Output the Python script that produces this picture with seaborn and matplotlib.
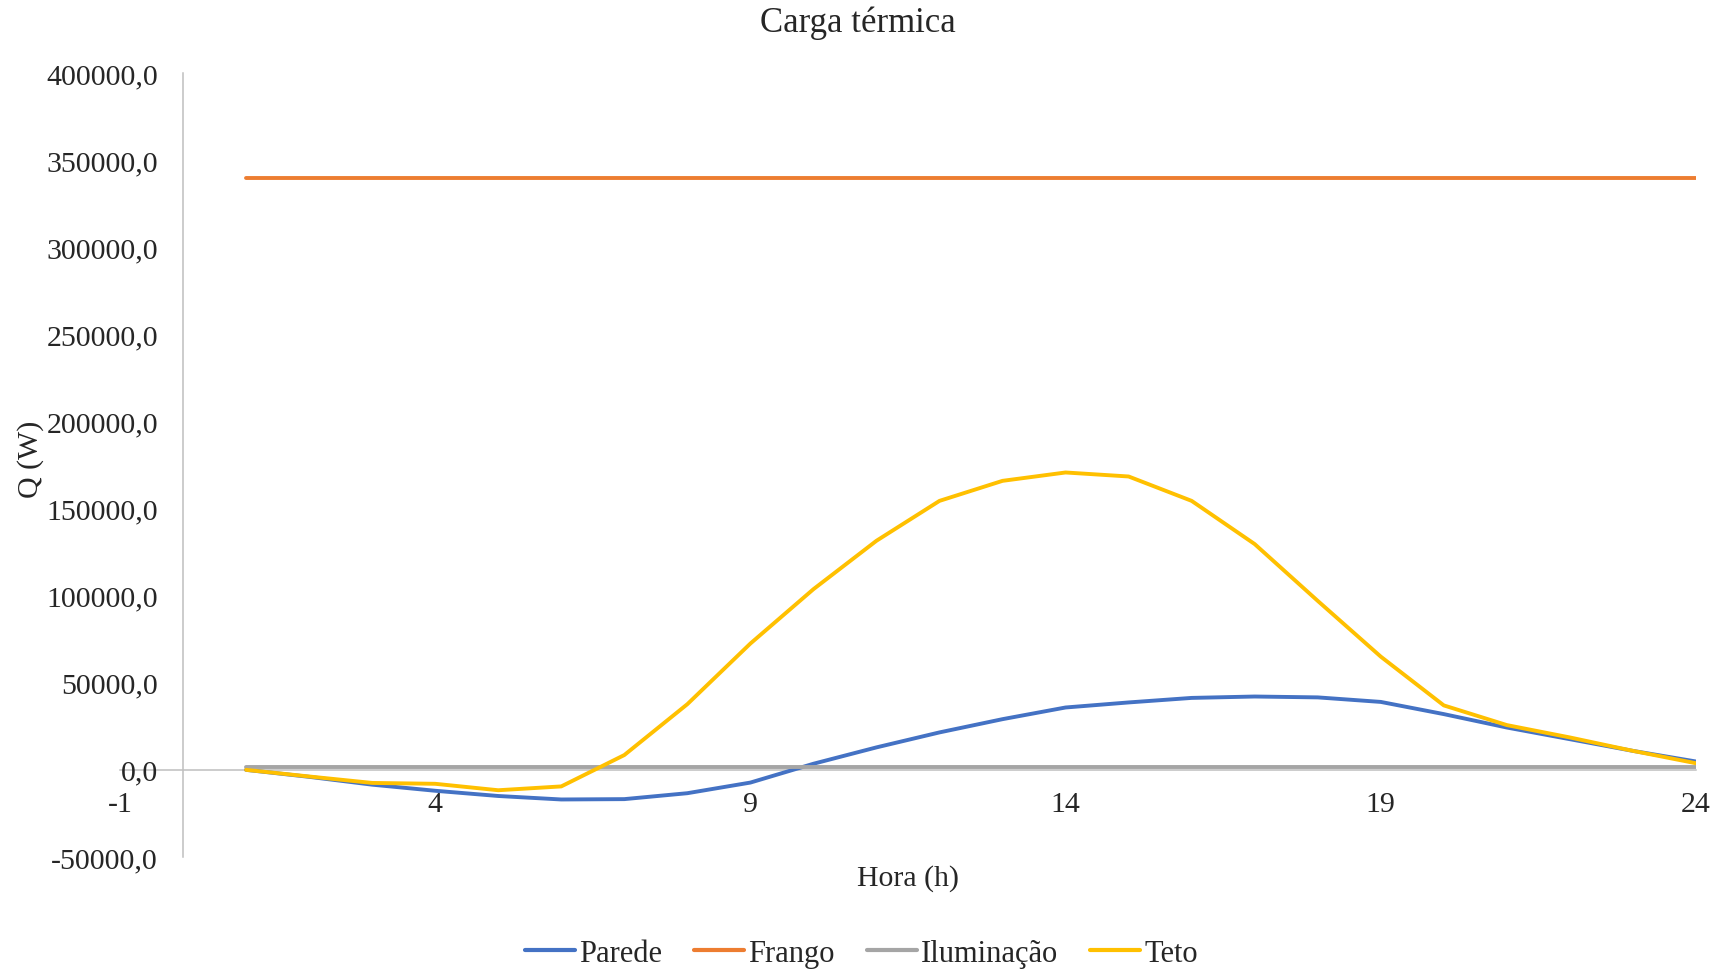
import matplotlib
matplotlib.use("Agg")
import matplotlib.pyplot as plt
import pandas as pd
import seaborn as sns
from matplotlib.ticker import FuncFormatter, FixedLocator

# Hourly heat loads (W)
horas = list(range(1, 25))
parede = [0, -4000, -8500, -12000, -15000, -17000, -16800, -13400, -7300, 3500,
          12900, 21500, 29100, 35800, 38700, 41300, 42100, 41600, 39000, 32000,
          24300, 17600, 10900, 4800]
frango = [340000, 340000, 340000, 340000, 340000, 340000, 340000, 340000,
          340000, 340000, 340000, 340000, 340000, 340000, 340000, 340000,
          340000, 340000, 340000, 340000, 340000, 340000, 340000, 340000]
iluminacao = [1500, 1500, 1500, 1500, 1500, 1500, 1500, 1500, 1500, 1500,
              1500, 1500, 1500, 1500, 1500, 1500, 1500, 1500, 1500, 1500,
              1500, 1500, 1500, 1500]
teto = [0, -3800, -7500, -8000, -11700, -9500, 8500, 37700, 72500, 103700,
        131500, 154400, 165900, 170700, 168400, 154400, 129600, 97000, 65000, 37000,
        25700, 18600, 10900, 3800]

series = ["Parede", "Frango", "Iluminação", "Teto"]
cores = ["#4472C4", "#ED7D31", "#A5A5A5", "#FFC000"]
x_ticks = [-1, 4, 9, 14, 19, 24]
y_ticks = [-50000, 0, 50000, 100000, 150000, 200000, 250000, 300000, 350000, 400000]

df = pd.concat([
    pd.DataFrame({"Hora": horas, "Q": vals, "Série": nome})
    for nome, vals in zip(series, [parede, frango, iluminacao, teto])
], ignore_index=True)

sns.set_style("white")
plt.rcParams["font.family"] = ["Liberation Serif", "DejaVu Serif"]
plt.rcParams["axes.unicode_minus"] = False

fig = plt.figure(figsize=(17.19, 9.70), dpi=100)
ax = fig.add_axes([0.0698, 0.1155, 0.9168, 0.8082])

sns.lineplot(data=df, x="Hora", y="Q", hue="Série", hue_order=series,
             palette=cores, linewidth=2.8, ax=ax, sort=False, legend=True)
for ln in ax.get_lines():
    ln.set_solid_joinstyle("round")
    ln.set_solid_capstyle("round")

ax.set_xlim(-1, 24)
ax.set_ylim(-50000, 400000)

# Axis lines cross at the origin
for side in ["top", "right"]:
    ax.spines[side].set_visible(False)
ax.spines["left"].set_position(("data", 0))
ax.spines["bottom"].set_position(("data", 0))
for side in ["left", "bottom"]:
    ax.spines[side].set_color("#BFBFBF")
    ax.spines[side].set_linewidth(1.1)
    ax.spines[side].set_zorder(0)

ax.xaxis.set_major_locator(FixedLocator(x_ticks))
ax.yaxis.set_major_locator(FixedLocator(y_ticks))
ax.yaxis.set_major_formatter(FuncFormatter(lambda v, p: f"{v:.1f}".replace(".", ",")))
ax.xaxis.set_major_formatter(FuncFormatter(lambda v, p: f"{int(v)}"))
ax.tick_params(axis="x", length=0, pad=15, labelsize=21.5)
ax.tick_params(axis="y", length=0, pad=18, labelsize=21.5)
ax.grid(False)

ax.set_xlabel("")
ax.set_ylabel("")
fig.text(0.5285, 0.094, "Hora (h)", ha="center", va="center", fontsize=21.5)
fig.text(0.018, 0.526, "Q (W)", ha="center", va="center", rotation=90, fontsize=21.5)
fig.text(0.499, 0.976, "Carga térmica", ha="center", va="center", fontsize=25)

handles, labels = ax.get_legend_handles_labels()
ax.legend_.remove()
fig.legend(handles, labels, loc="center", bbox_to_anchor=(0.501, 0.016), ncol=4,
           frameon=False, fontsize=22, handlelength=1.65, handletextpad=0.12,
           columnspacing=1.05)
for h in fig.legends[0].get_lines():
    h.set_linewidth(3)

fig.savefig("out.png", dpi=100, facecolor="white")
